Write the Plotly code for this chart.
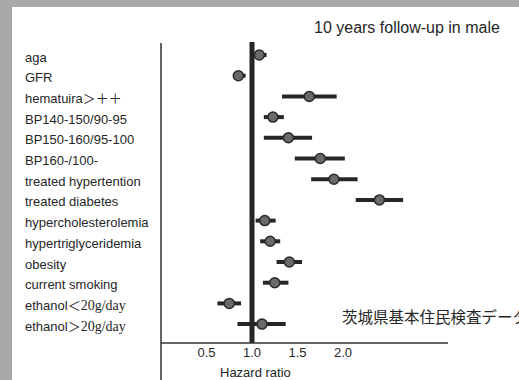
import plotly.graph_objects as go

# Risk factors (top to bottom) with hazard ratios and 95% CI
factors = [
    "aga",
    "GFR",
    "hematuira＞＋＋",
    "BP140-150/90-95",
    "BP150-160/95-100",
    "BP160-/100-",
    "treated hypertention",
    "treated diabetes",
    "hypercholesterolemia",
    "hypertriglyceridemia",
    "obesity",
    "current smoking",
    "ethanol＜<span style=\"font-family:'Liberation Serif';font-size:14px\">20g/day</span>",
    "ethanol＞<span style=\"font-family:'Liberation Serif';font-size:14px\">20g/day</span>",
]
hazard_ratio = [1.08, 0.85, 1.63, 1.23, 1.40, 1.75, 1.90, 2.40, 1.14, 1.20, 1.41, 1.25, 0.75, 1.11]
ci_low = [1.00, 0.79, 1.33, 1.13, 1.13, 1.47, 1.65, 2.14, 1.04, 1.09, 1.27, 1.12, 0.62, 0.84]
ci_high = [1.16, 0.93, 1.93, 1.35, 1.66, 2.02, 2.16, 2.66, 1.26, 1.31, 1.55, 1.40, 0.88, 1.37]
tick_values = [0.5, 1.0, 1.5, 2.0]
tick_labels = ["0.5", "1.0", "1.5", "2.0"]

rows = list(range(len(factors)))
err_plus = [h - c for h, c in zip(ci_high, hazard_ratio)]
err_minus = [c - l for c, l in zip(hazard_ratio, ci_low)]

INK = "#262626"
FONT = "Liberation Sans, Arial, Noto Sans CJK JP, sans-serif"

fig = go.Figure()
fig.add_trace(go.Scatter(
    x=hazard_ratio,
    y=rows,
    mode="markers",
    marker=dict(size=10, color="#6a6a6a", line=dict(color="#2a2a2a", width=1.5)),
    error_x=dict(type="data", symmetric=False, array=err_plus, arrayminus=err_minus,
                 thickness=4, width=0, color=INK),
    showlegend=False,
    hoverinfo="skip",
))

shapes = [
    # reference line at HR = 1
    dict(type="line", xref="x", yref="paper", x0=1, x1=1, y0=0, y1=1,
         line=dict(color=INK, width=5)),
    # left frame line, running past the x axis
    dict(type="line", xref="paper", yref="paper", x0=0, x1=0, y0=-0.13, y1=0.997,
         line=dict(color="#333333", width=1.5)),
    # x axis baseline
    dict(type="line", xref="paper", yref="paper", x0=0, x1=1, y0=0, y1=0,
         line=dict(color="#333333", width=1.5)),
    # page edge strips
    dict(type="rect", xref="paper", yref="paper", x0=-0.6, x1=(12 - 161) / 287,
         y0=-0.2, y1=1.2, fillcolor="#a9a9a9", line=dict(width=0), layer="below"),
    dict(type="rect", xref="paper", yref="paper", x0=-0.6, x1=1.3,
         y0=(343 - 7) / 301, y1=1.2, fillcolor="#a9a9a9", line=dict(width=0), layer="below"),
]

annotations = []
for i, name in enumerate(factors):
    annotations.append(dict(
        x=(23 - 161) / 287, xref="paper", xanchor="left",
        y=i, yref="y", yanchor="middle", yshift=-2,
        text=name, showarrow=False, font=dict(size=13, color=INK, family=FONT),
    ))

annotations += [
    dict(x=(502 - 161) / 287, xref="paper", xanchor="right",
         y=(343 - 28) / 301, yref="paper", yanchor="middle",
         text="10 years follow-up in male", showarrow=False,
         font=dict(size=16, color=INK, family=FONT)),
    dict(x=(340 - 161) / 287, xref="paper", xanchor="left",
         y=(343 - 316) / 301, yref="paper", yanchor="middle",
         text="茨城県基本住民検査データ", showarrow=False,
         font=dict(size=15.5, color=INK, family="Noto Sans CJK JP")),
    dict(x=1.04, xref="x", xanchor="center",
         y=-(372 - 343) / 301, yref="paper", yanchor="middle",
         text="Hazard ratio", showarrow=False,
         font=dict(size=13, color=INK, family=FONT)),
]

fig.update_layout(
    width=519, height=380,
    margin=dict(l=161, r=71, t=42, b=37),
    paper_bgcolor="white", plot_bgcolor="white",
    shapes=shapes,
    annotations=annotations,
    xaxis=dict(range=[0, 287 / 91], tickvals=tick_values, ticktext=tick_labels,
               showgrid=False, zeroline=False, showline=False, ticks="",
               tickfont=dict(size=13, color=INK, family=FONT)),
    yaxis=dict(range=[(343 - 55) / 20.7, (42 - 55) / 20.7], showgrid=False,
               zeroline=False, showline=False, showticklabels=False, ticks=""),
)

fig.write_html("out.html")
